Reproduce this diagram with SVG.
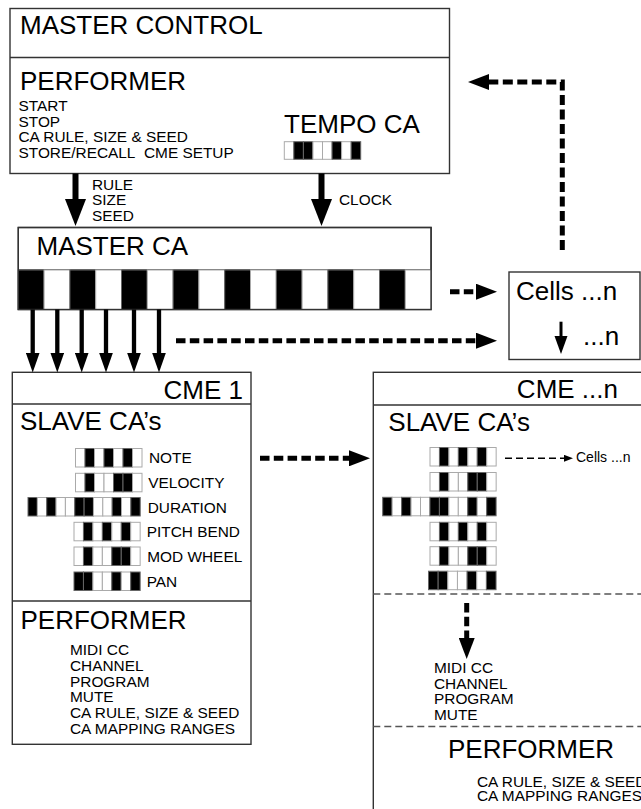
<svg xmlns="http://www.w3.org/2000/svg" width="641" height="809" viewBox="0 0 641 809">
<style>
text{font-family:"Liberation Sans",Arial,sans-serif;fill:#000}
.h{font-size:26px}
.s{font-size:15.4px}
.box{fill:#fff;stroke:#333;stroke-width:1.4}
.sep{stroke:#333;stroke-width:1.4}
.dsep{stroke:#555;stroke-width:1.3;stroke-dasharray:7 4}
.w{fill:#fff;stroke:#aaa;stroke-width:1}
.b{fill:#000;stroke:#666;stroke-width:1}
.thick{stroke:#000;stroke-width:6;fill:none}
.med{stroke:#000;stroke-width:4.3;fill:none}
.dash{stroke:#000;stroke-width:5;fill:none;stroke-dasharray:9.5 4.3}
.thin{stroke:#000;stroke-width:3;fill:none}
.sdash{stroke:#000;stroke-width:1.6;fill:none;stroke-dasharray:7 4}
</style>
<defs>
<marker id="ahBig" markerUnits="userSpaceOnUse" markerWidth="27" markerHeight="21" refX="1" refY="10.5" orient="auto"><path d="M0,0 L27,10.5 L0,21 z" fill="#000"/></marker>
<marker id="ahMed" markerUnits="userSpaceOnUse" markerWidth="20" markerHeight="14" refX="1" refY="7" orient="auto"><path d="M0,0 L20,7 L0,14 z" fill="#000"/></marker>
<marker id="ahDash" markerUnits="userSpaceOnUse" markerWidth="21" markerHeight="16" refX="1" refY="8" orient="auto"><path d="M0,0 L21,8 L0,16 z" fill="#000"/></marker>
<marker id="ahCell" markerUnits="userSpaceOnUse" markerWidth="17" markerHeight="12" refX="1" refY="6" orient="auto"><path d="M0,0 L17,6 L0,12 z" fill="#000"/></marker>
<marker id="ahSmall" markerUnits="userSpaceOnUse" markerWidth="9" markerHeight="7" refX="1" refY="3.5" orient="auto"><path d="M0,0 L9,3.5 L0,7 z" fill="#000"/></marker>
</defs>
<rect width="641" height="809" fill="#fff"/>

<g id="master-control">
<rect class="box" x="10" y="8.5" width="439.5" height="165"/>
<line class="sep" x1="10" y1="57.5" x2="449.5" y2="57.5"/>
<text class="h" x="20" y="34">MASTER CONTROL</text>
<text class="h" x="20" y="90">PERFORMER</text>
<text class="s" x="18.5" y="111">START</text>
<text class="s" x="18.5" y="126.5">STOP</text>
<text class="s" x="18.5" y="142">CA RULE, SIZE &amp; SEED</text>
<text class="s" x="18.5" y="157.5">STORE/RECALL&#160; CME SETUP</text>
<text class="h" x="284" y="133">TEMPO CA</text>
<g id="tempo-ca">
<rect class="w" x="284.3" y="141.7" width="9.55" height="17.6"/>
<rect class="b" x="293.85" y="141.7" width="9.55" height="17.6"/>
<rect class="b" x="303.4" y="141.7" width="9.55" height="17.6"/>
<rect class="w" x="312.95" y="141.7" width="9.55" height="17.6"/>
<rect class="w" x="322.5" y="141.7" width="9.55" height="17.6"/>
<rect class="b" x="332.05" y="141.7" width="9.55" height="17.6"/>
<rect class="w" x="341.6" y="141.7" width="9.55" height="17.6"/>
<rect class="b" x="351.15" y="141.7" width="9.55" height="17.6"/>
</g>
</g>

<g id="master-ca">
<rect class="box" x="18.3" y="227.5" width="412.8" height="82"/>
<line class="sep" x1="18.3" y1="270" x2="431.1" y2="270"/>
<text class="h" x="36.5" y="255">MASTER CA</text>
<rect class="b" x="18.3" y="270" width="25.8" height="39.5"/>
<rect class="w" x="44.1" y="270" width="25.8" height="39.5"/>
<rect class="b" x="69.9" y="270" width="25.8" height="39.5"/>
<rect class="w" x="95.7" y="270" width="25.8" height="39.5"/>
<rect class="b" x="121.5" y="270" width="25.8" height="39.5"/>
<rect class="w" x="147.3" y="270" width="25.8" height="39.5"/>
<rect class="b" x="173.1" y="270" width="25.8" height="39.5"/>
<rect class="w" x="198.9" y="270" width="25.8" height="39.5"/>
<rect class="b" x="224.7" y="270" width="25.8" height="39.5"/>
<rect class="w" x="250.5" y="270" width="25.8" height="39.5"/>
<rect class="b" x="276.3" y="270" width="25.8" height="39.5"/>
<rect class="w" x="302.1" y="270" width="25.8" height="39.5"/>
<rect class="b" x="327.9" y="270" width="25.8" height="39.5"/>
<rect class="w" x="353.7" y="270" width="25.8" height="39.5"/>
<rect class="b" x="379.5" y="270" width="25.8" height="39.5"/>
<rect class="w" x="405.3" y="270" width="25.8" height="39.5"/>
<rect x="18.3" y="227.5" width="412.8" height="82" fill="none" stroke="#333" stroke-width="1.4"/>
</g>

<g id="cells-box">
<rect class="box" x="509" y="272" width="131" height="87.5"/>
<text class="h" x="516" y="300">Cells ...n</text>
<line class="thin" x1="561" y1="321.7" x2="561" y2="337"/>
<path d="M554.5,336 L567.5,336 L561,354 z" fill="#000"/>
<text class="h" x="583" y="345">...n</text>
</g>

<g id="cme-1">
<rect class="box" x="12.3" y="372.3" width="238.7" height="372"/>
<line class="sep" x1="12.3" y1="404" x2="251" y2="404"/>
<line class="sep" x1="12.3" y1="601" x2="251" y2="601"/>
<text class="h" x="243" y="399" text-anchor="end">CME 1</text>
<text class="h" x="20" y="430">SLAVE CA’s</text>
<g id="cme1-note">
<rect class="w" x="75.5" y="448.5" width="9.5" height="18.5"/>
<rect class="b" x="85" y="448.5" width="9.5" height="18.5"/>
<rect class="w" x="94.5" y="448.5" width="9.5" height="18.5"/>
<rect class="b" x="104" y="448.5" width="9.5" height="18.5"/>
<rect class="w" x="113.5" y="448.5" width="9.5" height="18.5"/>
<rect class="b" x="123" y="448.5" width="9.5" height="18.5"/>
<rect class="w" x="132.5" y="448.5" width="9.5" height="18.5"/>
</g>
<g id="cme1-velocity">
<rect class="w" x="75.5" y="473.3" width="9.5" height="18.5"/>
<rect class="b" x="85" y="473.3" width="9.5" height="18.5"/>
<rect class="w" x="94.5" y="473.3" width="9.5" height="18.5"/>
<rect class="w" x="104" y="473.3" width="9.5" height="18.5"/>
<rect class="b" x="113.5" y="473.3" width="9.5" height="18.5"/>
<rect class="b" x="123" y="473.3" width="9.5" height="18.5"/>
<rect class="w" x="132.5" y="473.3" width="9.5" height="18.5"/>
</g>
<g id="cme1-duration">
<rect class="b" x="28" y="497.5" width="9.35" height="18.5"/>
<rect class="w" x="37.35" y="497.5" width="9.35" height="18.5"/>
<rect class="b" x="46.7" y="497.5" width="9.35" height="18.5"/>
<rect class="w" x="56.05" y="497.5" width="9.35" height="18.5"/>
<rect class="w" x="65.4" y="497.5" width="9.35" height="18.5"/>
<rect class="b" x="74.75" y="497.5" width="9.35" height="18.5"/>
<rect class="b" x="84.1" y="497.5" width="9.35" height="18.5"/>
<rect class="w" x="93.45" y="497.5" width="9.35" height="18.5"/>
<rect class="w" x="102.8" y="497.5" width="9.35" height="18.5"/>
<rect class="b" x="112.15" y="497.5" width="9.35" height="18.5"/>
<rect class="w" x="121.5" y="497.5" width="9.35" height="18.5"/>
<rect class="b" x="130.85" y="497.5" width="9.35" height="18.5"/>
</g>
<g id="cme1-pitch">
<rect class="w" x="74" y="522.3" width="9.45" height="18.5"/>
<rect class="b" x="83.45" y="522.3" width="9.45" height="18.5"/>
<rect class="w" x="92.9" y="522.3" width="9.45" height="18.5"/>
<rect class="b" x="102.35" y="522.3" width="9.45" height="18.5"/>
<rect class="w" x="111.8" y="522.3" width="9.45" height="18.5"/>
<rect class="b" x="121.25" y="522.3" width="9.45" height="18.5"/>
<rect class="w" x="130.7" y="522.3" width="9.45" height="18.5"/>
</g>
<g id="cme1-mod">
<rect class="w" x="74" y="547" width="9.45" height="18.5"/>
<rect class="b" x="83.45" y="547" width="9.45" height="18.5"/>
<rect class="w" x="92.9" y="547" width="9.45" height="18.5"/>
<rect class="w" x="102.35" y="547" width="9.45" height="18.5"/>
<rect class="b" x="111.8" y="547" width="9.45" height="18.5"/>
<rect class="b" x="121.25" y="547" width="9.45" height="18.5"/>
<rect class="w" x="130.7" y="547" width="9.45" height="18.5"/>
</g>
<g id="cme1-pan">
<rect class="b" x="74" y="572" width="9.45" height="18.5"/>
<rect class="b" x="83.45" y="572" width="9.45" height="18.5"/>
<rect class="w" x="92.9" y="572" width="9.45" height="18.5"/>
<rect class="w" x="102.35" y="572" width="9.45" height="18.5"/>
<rect class="b" x="111.8" y="572" width="9.45" height="18.5"/>
<rect class="w" x="121.25" y="572" width="9.45" height="18.5"/>
<rect class="b" x="130.7" y="572" width="9.45" height="18.5"/>
</g>
<text class="s" x="149" y="462.5">NOTE</text>
<text class="s" x="148.3" y="487.5">VELOCITY</text>
<text class="s" x="147.7" y="512.5">DURATION</text>
<text class="s" x="146.7" y="536.7">PITCH BEND</text>
<text class="s" x="147.3" y="561.5">MOD WHEEL</text>
<text class="s" x="146.7" y="586.5">PAN</text>
<text class="h" x="20.5" y="629">PERFORMER</text>
<text class="s" x="70" y="655">MIDI CC</text>
<text class="s" x="70" y="671">CHANNEL</text>
<text class="s" x="70" y="686.5">PROGRAM</text>
<text class="s" x="70" y="702">MUTE</text>
<text class="s" x="70" y="718">CA RULE, SIZE &amp; SEED</text>
<text class="s" x="70" y="733.5">CA MAPPING RANGES</text>
</g>

<g id="cme-n">
<rect class="box" x="373.3" y="372.3" width="300" height="500"/>
<line class="sep" x1="373.3" y1="405" x2="641" y2="405"/>
<text class="h" x="618" y="398" text-anchor="end">CME ...n</text>
<text class="h" x="388.3" y="431">SLAVE CA’s</text>
<g id="cmen-row1">
<rect class="w" x="430" y="447.5" width="9.45" height="18.5"/>
<rect class="b" x="439.45" y="447.5" width="9.45" height="18.5"/>
<rect class="w" x="448.9" y="447.5" width="9.45" height="18.5"/>
<rect class="b" x="458.35" y="447.5" width="9.45" height="18.5"/>
<rect class="w" x="467.8" y="447.5" width="9.45" height="18.5"/>
<rect class="b" x="477.25" y="447.5" width="9.45" height="18.5"/>
<rect class="w" x="486.7" y="447.5" width="9.45" height="18.5"/>
</g>
<g id="cmen-row2">
<rect class="w" x="430" y="472.5" width="9.45" height="18.5"/>
<rect class="b" x="439.45" y="472.5" width="9.45" height="18.5"/>
<rect class="w" x="448.9" y="472.5" width="9.45" height="18.5"/>
<rect class="w" x="458.35" y="472.5" width="9.45" height="18.5"/>
<rect class="b" x="467.8" y="472.5" width="9.45" height="18.5"/>
<rect class="b" x="477.25" y="472.5" width="9.45" height="18.5"/>
<rect class="w" x="486.7" y="472.5" width="9.45" height="18.5"/>
</g>
<g id="cmen-row3">
<rect class="b" x="382.7" y="497.3" width="9.45" height="18.5"/>
<rect class="w" x="392.15" y="497.3" width="9.45" height="18.5"/>
<rect class="b" x="401.6" y="497.3" width="9.45" height="18.5"/>
<rect class="w" x="411.05" y="497.3" width="9.45" height="18.5"/>
<rect class="w" x="420.5" y="497.3" width="9.45" height="18.5"/>
<rect class="b" x="429.95" y="497.3" width="9.45" height="18.5"/>
<rect class="b" x="439.4" y="497.3" width="9.45" height="18.5"/>
<rect class="w" x="448.85" y="497.3" width="9.45" height="18.5"/>
<rect class="w" x="458.3" y="497.3" width="9.45" height="18.5"/>
<rect class="b" x="467.75" y="497.3" width="9.45" height="18.5"/>
<rect class="w" x="477.2" y="497.3" width="9.45" height="18.5"/>
<rect class="b" x="486.65" y="497.3" width="9.45" height="18.5"/>
</g>
<g id="cmen-row4">
<rect class="w" x="430" y="522.3" width="9.45" height="18.5"/>
<rect class="b" x="439.45" y="522.3" width="9.45" height="18.5"/>
<rect class="w" x="448.9" y="522.3" width="9.45" height="18.5"/>
<rect class="b" x="458.35" y="522.3" width="9.45" height="18.5"/>
<rect class="w" x="467.8" y="522.3" width="9.45" height="18.5"/>
<rect class="b" x="477.25" y="522.3" width="9.45" height="18.5"/>
<rect class="w" x="486.7" y="522.3" width="9.45" height="18.5"/>
</g>
<g id="cmen-row5">
<rect class="w" x="430" y="546.7" width="9.45" height="18.5"/>
<rect class="b" x="439.45" y="546.7" width="9.45" height="18.5"/>
<rect class="w" x="448.9" y="546.7" width="9.45" height="18.5"/>
<rect class="w" x="458.35" y="546.7" width="9.45" height="18.5"/>
<rect class="b" x="467.8" y="546.7" width="9.45" height="18.5"/>
<rect class="b" x="477.25" y="546.7" width="9.45" height="18.5"/>
<rect class="w" x="486.7" y="546.7" width="9.45" height="18.5"/>
</g>
<g id="cmen-row6">
<rect class="b" x="428.5" y="571.2" width="9.65" height="18.5"/>
<rect class="b" x="438.15" y="571.2" width="9.65" height="18.5"/>
<rect class="w" x="447.8" y="571.2" width="9.65" height="18.5"/>
<rect class="w" x="457.45" y="571.2" width="9.65" height="18.5"/>
<rect class="b" x="467.1" y="571.2" width="9.65" height="18.5"/>
<rect class="w" x="476.75" y="571.2" width="9.65" height="18.5"/>
<rect class="b" x="486.4" y="571.2" width="9.65" height="18.5"/>
</g>
<text x="576" y="462" style="font-size:14px">Cells ...n</text>
<line class="dsep" x1="373.3" y1="594" x2="641" y2="594"/>
<line class="dsep" x1="373.3" y1="726.5" x2="641" y2="726.5"/>
<text class="s" x="434" y="672.5">MIDI CC</text>
<text class="s" x="434" y="688.5">CHANNEL</text>
<text class="s" x="434" y="704">PROGRAM</text>
<text class="s" x="434" y="720">MUTE</text>
<text class="h" x="448" y="758">PERFORMER</text>
<text class="s" x="477" y="786.5">CA RULE, SIZE &amp; SEED</text>
<text class="s" x="477" y="801">CA MAPPING RANGES</text>
</g>

<g id="connectors">
<line class="thick" x1="75.5" y1="173.5" x2="75.5" y2="200" marker-end="url(#ahBig)"/>
<text class="s" x="92" y="189.5">RULE</text>
<text class="s" x="92" y="205">SIZE</text>
<text class="s" x="92" y="220.5">SEED</text>
<line class="thick" x1="321.5" y1="173.5" x2="321.5" y2="200" marker-end="url(#ahBig)"/>
<text class="s" x="339" y="204.5">CLOCK</text>
<line class="med" x1="32.7" y1="309.5" x2="32.7" y2="353.5" marker-end="url(#ahMed)"/>
<line class="med" x1="57.3" y1="309.5" x2="57.3" y2="353.5" marker-end="url(#ahMed)"/>
<line class="med" x1="81.7" y1="309.5" x2="81.7" y2="353.5" marker-end="url(#ahMed)"/>
<line class="med" x1="106" y1="309.5" x2="106" y2="353.5" marker-end="url(#ahMed)"/>
<line class="med" x1="134" y1="309.5" x2="134" y2="353.5" marker-end="url(#ahMed)"/>
<line class="med" x1="159" y1="309.5" x2="159" y2="353.5" marker-end="url(#ahMed)"/>
<path class="dash" d="M176,340.7 L477,340.7" marker-end="url(#ahDash)"/>
<path class="dash" d="M450,291.7 L477,291.7" marker-end="url(#ahDash)"/>
<path class="dash" d="M562.3,250 L562.3,82 L488,82" style="stroke-dasharray:10 4.5" marker-end="url(#ahDash)"/>
<path class="dash" d="M260,458.3 L350,458.3" marker-end="url(#ahDash)"/>
<path class="dash" d="M466.7,603 L466.7,639" marker-end="url(#ahDash)"/>
<path class="sdash" d="M505,458.3 L565,458.3" marker-end="url(#ahSmall)"/>
</g>
</svg>
